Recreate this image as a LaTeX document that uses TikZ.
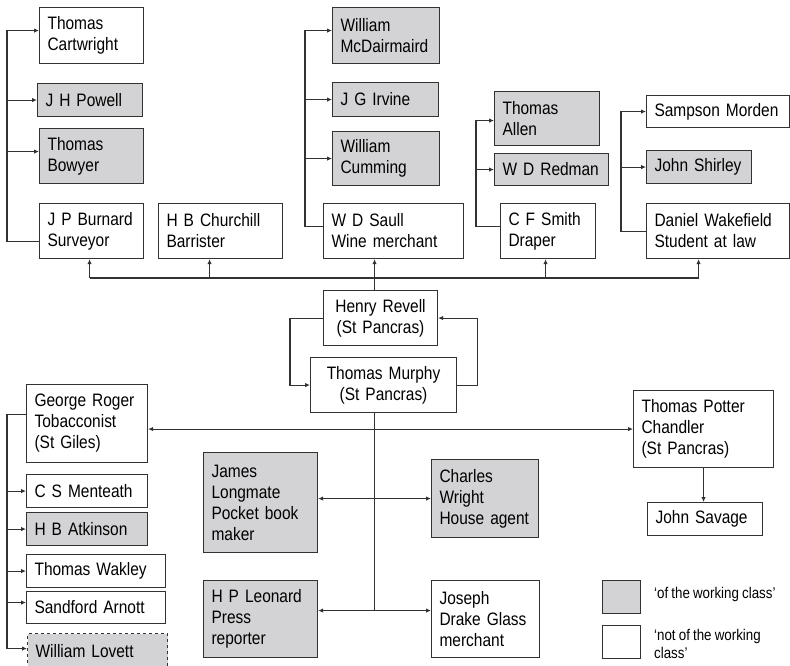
\documentclass[tikz,border=0pt]{standalone}
\usepackage{fontspec}
\setmainfont{Liberation Sans}[FakeStretch=0.86, WordSpace=0.85]
\usetikzlibrary{arrows.meta}

\definecolor{wcgray}{RGB}{211,211,213}
\definecolor{ink}{RGB}{50,50,50}

\tikzset{
  person/.style={draw=ink, line width=1.1pt, rectangle, anchor=north west,
    align=left, inner xsep=8pt, inner ysep=0pt,
    font=\fontsize{18}{21}\selectfont},
  wc/.style={person, fill=wcgray},
  nwc/.style={person, fill=white},
  sz/.style 2 args={minimum width=#1pt, minimum height=#2pt, text width=#1pt-16pt},
  link/.style={draw=ink, line width=1.1pt},
  feed/.style={link, -{Latex[length=5pt,width=4.5pt]}},
  both/.style={link, {Latex[length=5pt,width=4.5pt]}-{Latex[length=5pt,width=4.5pt]}},
  legendtext/.style={anchor=west, align=left, inner sep=0pt,
    font=\fontsize{15.5}{18}\selectfont}
}

\begin{document}
\begin{tikzpicture}[x=1pt, y=-1pt]
  \useasboundingbox (0,0) rectangle (790,665);

  % top row
  \node[nwc, sz={104}{56}] (cartwright) at (39,7) {Thomas\\Cartwright};
  \node[wc, sz={105}{33}] (powell) at (37,83) {J H Powell};
  \node[wc, sz={104}{55}] (bowyer) at (39,128) {Thomas\\Bowyer};
  \node[nwc, sz={104}{55}] (burnard) at (39,203) {J P Burnard\\Surveyor};
  \node[nwc, sz={124}{55}] (churchill) at (158,203) {H B Churchill\\Barrister};
  \node[wc, sz={107}{56}] (mcdair) at (332,7) {William\\McDairmaird};
  \node[wc, sz={106}{34}] (irvine) at (332,82) {J G Irvine};
  \node[wc, sz={107}{54}] (cumming) at (332,131) {William\\Cumming};
  \node[nwc, sz={140}{55}] (saull) at (323,203) {W D Saull\\Wine merchant};
  \node[wc, sz={105}{54}] (allen) at (494,91) {Thomas\\Allen};
  \node[wc, sz={114}{32}] (redman) at (494,153) {W D Redman};
  \node[nwc, sz={95}{55}] (smith) at (500,203) {C F Smith\\Draper};
  \node[nwc, sz={143}{32}] (morden) at (646,95) {Sampson Morden};
  \node[wc, sz={105}{33}] (shirley) at (646,150) {John Shirley};
  \node[nwc, sz={143}{55}] (wakefield) at (646,203) {Daniel Wakefield\\Student at law};

  % centre
  \node[nwc, sz={114}{55}, align=center] (revell) at (323,290) {Henry Revell\\(St Pancras)};
  \node[nwc, sz={146}{55}, align=center] (murphy) at (310,357) {Thomas Murphy\\(St Pancras)};

  % bottom row
  \node[nwc, sz={121}{78}] (roger) at (26,384) {George Roger\\Tobacconist\\(St Giles)};
  \node[nwc, sz={121}{33}] (menteath) at (26,474) {C S Menteath};
  \node[wc, sz={121}{33}] (atkinson) at (26,512) {H B Atkinson};
  \node[nwc, sz={139}{33}] (wakley) at (26,554) {Thomas Wakley};
  \node[nwc, sz={139}{32}] (arnott) at (26,591) {Sandford Arnott};
  \node[wc, sz={140}{36}, dashed] (lovett) at (27,633) {William Lovett};
  \node[wc, sz={114}{100}] (longmate) at (203,452) {James\\Longmate\\Pocket book\\maker};
  \node[wc, sz={114}{77}] (leonard) at (203,580) {H P Leonard\\Press\\reporter};
  \node[wc, sz={107}{78}] (wright) at (431,459) {Charles\\Wright\\House agent};
  \node[nwc, sz={108}{77}] (drake) at (431,580) {Joseph\\Drake Glass\\merchant};
  \node[nwc, sz={140}{77}] (potter) at (633,390) {Thomas Potter\\Chandler\\(St Pancras)};
  \node[nwc, sz={115}{33}] (savage) at (647,502) {John Savage};

  % legend
  \node[wc, sz={38}{33}] (keywc) at (602,580) {};
  \node[nwc, sz={38}{33}] (keynwc) at (602,625) {};
  \node[legendtext] (keywctext) at (654,594) {‘of the working class’};
  \node[legendtext] (keynwctext) at (654,644) {‘not of the working\\class’};

  % groups above
  \draw[feed] ([yshift=-10pt]burnard.west) -- ++(-32,0) coordinate (ga) |- ([yshift=5pt]cartwright.west);
  \draw[feed] (ga |- powell.west) -- (powell.west);
  \draw[feed] ([yshift=4.5pt]ga |- bowyer.west) -- ([yshift=4.5pt]bowyer.west);
  \draw[feed] ([yshift=4.5pt]saull.west) -- ++(-18,0) coordinate (gb) |- ([yshift=5pt]mcdair.west);
  \draw[feed] (gb |- irvine.west) -- (irvine.west);
  \draw[feed] (gb |- cumming.west) -- (cumming.west);
  \draw[feed] ([yshift=4.5pt]smith.west) -- ++(-24,0) coordinate (gc) |- ([yshift=-2pt]allen.west);
  \draw[feed] (gc |- redman.west) -- (redman.west);
  \draw[feed] (wakefield.west) -- ++(-25,0) coordinate (gd) |- (morden.west);
  \draw[feed] (gd |- shirley.west) -- (shirley.west);

  % bus to the top row
  \coordinate (bus) at ([xshift=-6pt, yshift=12pt]revell.north);
  \coordinate (tb) at ([xshift=-2pt]burnard.south);
  \coordinate (tc) at ([xshift=-11pt]churchill.south);
  \coordinate (ts) at ([xshift=-2.5pt]smith.south);
  \coordinate (tw) at ([xshift=-19.5pt]wakefield.south);
  \draw[feed] (revell.north -| bus) -- (saull.south -| bus);
  \draw[link] (bus -| tb) -- (bus -| tw);
  \draw[feed] (bus -| tb) -- (tb);
  \draw[feed] (bus -| tc) -- (tc);
  \draw[feed] (bus -| ts) -- (ts);
  \draw[feed] (bus -| tw) -- (tw);

  % Revell and Murphy
  \draw[feed] (revell.west) -- ++(-33,0) |- (murphy.west);
  \draw[feed] (murphy.east) -- ++(20,0) |- (revell.east);

  % from Murphy down
  \coordinate (mstem) at ([xshift=-9pt]murphy.south);
  \coordinate (low) at ([yshift=8.5pt]leonard.east);
  \draw[link] (mstem) -- (mstem |- low);
  \draw[both] (roger.east |- potter.west) -- (potter.west);
  \draw[both] (longmate.east |- wright.west) -- (wright.west);
  \draw[both] (low) -- (low -| drake.west);
  \draw[feed] (potter.south) -- (potter.south |- savage.north);

  % George Roger group
  \draw[link] ([yshift=9pt]roger.west) -- ++(-19,0) coordinate (ge) -- ([yshift=3pt]ge |- lovett.west);
  \draw[feed] (ge |- menteath.west) -- (menteath.west);
  \draw[feed] (ge |- atkinson.west) -- (atkinson.west);
  \draw[feed] (ge |- wakley.west) -- (wakley.west);
  \draw[feed] ([yshift=5pt]ge |- arnott.west) -- ([yshift=5pt]arnott.west);
  \draw[feed] ([yshift=3pt]ge |- lovett.west) -- ([yshift=3pt]lovett.west);
\end{tikzpicture}
\end{document}
